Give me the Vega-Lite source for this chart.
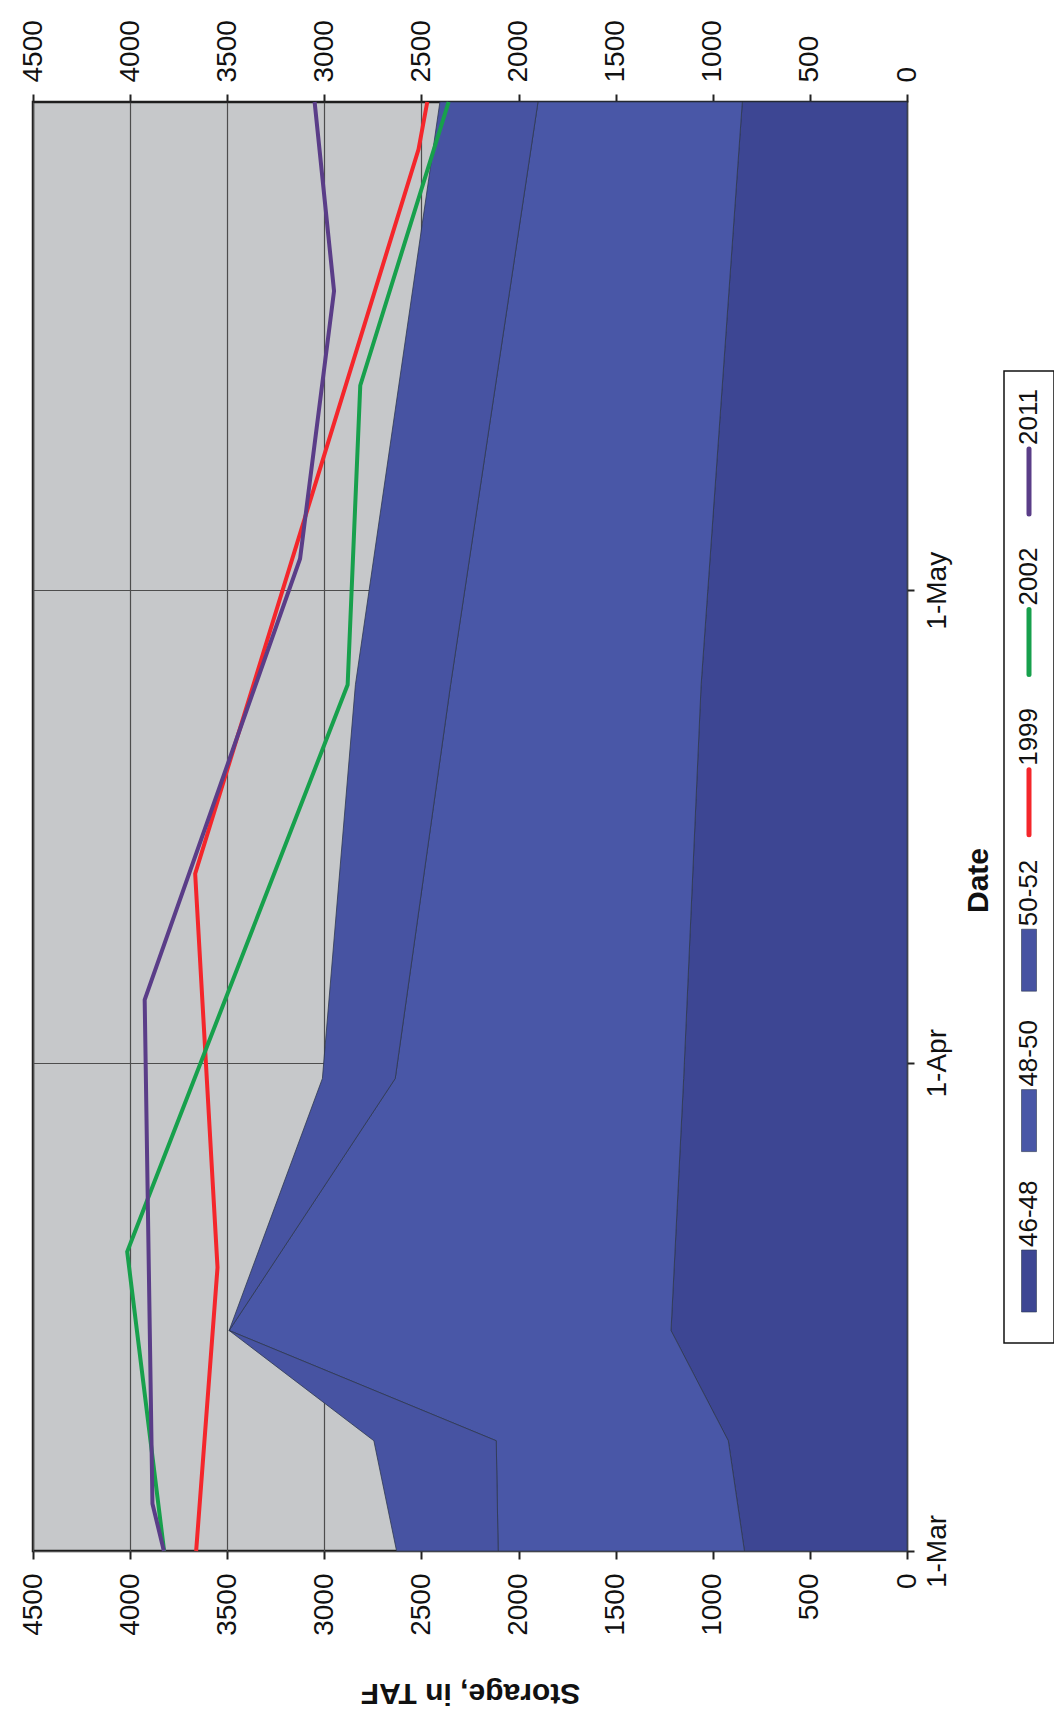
{
  "$schema": "https://vega.github.io/schema/vega-lite/v6.json",
  "description": "Storage in TAF, 1 March to 1 June: bands for 46-48, 48-50, 50-52 with 1999, 2002, 2011 lines, drawn turned on its side like the scan.",
  "background": "white",
  "padding": {"left": 17, "top": 18, "right": 2, "bottom": 2},
  "datasets": {
    "bands": [
      {"date": "2001/03/01", "band": "46-48", "taf": 837},
      {"date": "2001/03/08", "band": "46-48", "taf": 920},
      {"date": "2001/03/15", "band": "46-48", "taf": 1215},
      {"date": "2001/03/31", "band": "46-48", "taf": 1150},
      {"date": "2001/04/25", "band": "46-48", "taf": 1060},
      {"date": "2001/06/01", "band": "46-48", "taf": 848},
      {"date": "2001/03/01", "band": "48-50", "taf": 1268},
      {"date": "2001/03/08", "band": "48-50", "taf": 1195},
      {"date": "2001/03/15", "band": "48-50", "taf": 2275},
      {"date": "2001/03/31", "band": "48-50", "taf": 1485},
      {"date": "2001/04/25", "band": "48-50", "taf": 1290},
      {"date": "2001/06/01", "band": "48-50", "taf": 1052},
      {"date": "2001/03/01", "band": "50-52", "taf": 523},
      {"date": "2001/03/08", "band": "50-52", "taf": 630},
      {"date": "2001/03/15", "band": "50-52", "taf": 0},
      {"date": "2001/03/31", "band": "50-52", "taf": 375},
      {"date": "2001/04/25", "band": "50-52", "taf": 490},
      {"date": "2001/06/01", "band": "50-52", "taf": 505}
    ],
    "years": [
      {"date": "2001/03/01", "year": "1999", "taf": 3660},
      {"date": "2001/03/19", "year": "1999", "taf": 3550},
      {"date": "2001/04/13", "year": "1999", "taf": 3665},
      {"date": "2001/05/29", "year": "1999", "taf": 2515},
      {"date": "2001/06/01", "year": "1999", "taf": 2470},
      {"date": "2001/03/01", "year": "2002", "taf": 3825},
      {"date": "2001/03/20", "year": "2002", "taf": 4015},
      {"date": "2001/04/25", "year": "2002", "taf": 2880},
      {"date": "2001/05/14", "year": "2002", "taf": 2815},
      {"date": "2001/06/01", "year": "2002", "taf": 2360},
      {"date": "2001/03/01", "year": "2011", "taf": 3826},
      {"date": "2001/03/04", "year": "2011", "taf": 3885},
      {"date": "2001/04/05", "year": "2011", "taf": 3925},
      {"date": "2001/05/03", "year": "2011", "taf": 3125},
      {"date": "2001/05/20", "year": "2011", "taf": 2950},
      {"date": "2001/06/01", "year": "2011", "taf": 3050}
    ],
    "keys": [
      {"key": "2011", "kind": "line"},
      {"key": "2002", "kind": "line"},
      {"key": "1999", "kind": "line"},
      {"key": "50-52", "kind": "area"},
      {"key": "48-50", "kind": "area"},
      {"key": "46-48", "kind": "area"}
    ]
  },
  "spacing": 8,
  "hconcat": [
    {
      "width": 874,
      "height": 1449,
      "view": {"fill": "#c6c8ca", "stroke": "#1e1e1e", "strokeWidth": 2.5},
      "encoding": {
        "y": {
          "field": "date",
          "type": "temporal",
          "scale": {
            "domain": [
              {"year": 2001, "month": 3, "date": 1},
              {"year": 2001, "month": 6, "date": 1}
            ],
            "nice": false
          },
          "axis": {
            "orient": "right",
            "values": [
              {"year": 2001, "month": 3, "date": 1},
              {"year": 2001, "month": 4, "date": 1},
              {"year": 2001, "month": 5, "date": 1}
            ],
            "format": "%-d-%b",
            "labelAngle": 270,
            "labelAlign": "center",
            "labelBaseline": "top",
            "labelPadding": 9,
            "tickSize": 7,
            "grid": true,
            "title": "Date",
            "titleAngle": 270,
            "titleAlign": "center",
            "titleBaseline": "top",
            "titlePadding": 12,
            "titleY": 778
          }
        }
      },
      "layer": [
        {
          "data": {"name": "bands"},
          "mark": {"type": "area", "orient": "horizontal", "stroke": "#2e3950", "strokeWidth": 0.8, "opacity": 1},
          "encoding": {
            "x": {
              "field": "taf",
              "type": "quantitative",
              "stack": "zero",
              "scale": {"domain": [0, 4500], "reverse": true, "nice": false, "zero": true},
              "axis": {
                "orient": "bottom",
                "values": [0, 500, 1000, 1500, 2000, 2500, 3000, 3500, 4000, 4500],
                "format": "d",
                "labelAngle": 270,
                "labelAlign": "right",
                "labelBaseline": "middle",
                "labelPadding": 14,
                "tickSize": 8,
                "grid": true,
                "title": "Storage, in TAF",
                "titleAngle": 180,
                "titleBaseline": "bottom",
                "titlePadding": 42
              }
            },
            "color": {
              "field": "band",
              "type": "nominal",
              "scale": {
                "domain": ["46-48", "48-50", "50-52", "1999", "2002", "2011"],
                "range": ["#3d4693", "#4957a7", "#4753a2", "#f4262b", "#17a04c", "#5a3d88"]
              },
              "legend": null
            },
            "order": {"field": "band", "type": "ordinal", "sort": "ascending"}
          }
        },
        {
          "data": {"name": "years"},
          "mark": {"type": "line", "strokeWidth": 4, "strokeJoin": "miter"},
          "encoding": {
            "x": {
              "field": "taf",
              "type": "quantitative",
              "axis": {
                "orient": "top",
                "values": [0, 500, 1000, 1500, 2000, 2500, 3000, 3500, 4000, 4500],
                "format": "d",
                "labelAngle": 270,
                "labelAlign": "left",
                "labelBaseline": "middle",
                "labelPadding": 12,
                "tickSize": 8,
                "grid": false,
                "title": null
              }
            },
            "color": {
              "field": "year",
              "type": "nominal",
              "scale": {
                "domain": ["46-48", "48-50", "50-52", "1999", "2002", "2011"],
                "range": ["#3d4693", "#4957a7", "#4753a2", "#f4262b", "#17a04c", "#5a3d88"]
              },
              "legend": null
            },
            "order": {"field": "date", "type": "temporal"}
          }
        }
      ],
      "resolve": {"axis": {"x": "independent"}}
    },
    {
      "spacing": 0,
      "vconcat": [
        {
          "width": 50,
          "height": 268,
          "view": {"stroke": null},
          "data": {"values": []},
          "mark": "point"
        },
        {
          "width": 50,
          "height": 972,
          "view": {"stroke": "#111111", "strokeWidth": 1.5, "fill": "white"},
          "data": {"name": "keys"},
          "encoding": {
            "y": {
              "field": "key",
              "type": "ordinal",
              "scale": {
                "type": "point",
                "domain": ["2011", "2002", "1999", "50-52", "48-50", "46-48"],
                "range": [74, 876],
                "padding": 0
              },
              "axis": null
            }
          },
          "layer": [
            {
              "transform": [{"filter": "datum.kind == 'area'"}],
              "mark": {
                "type": "point",
                "shape": "M-0.3,0.12H0.3V2.6H-0.3Z",
                "size": 2500,
                "filled": true,
                "opacity": 1,
                "stroke": "#2e3950",
                "strokeWidth": 0.6
              },
              "encoding": {
                "fill": {
                  "field": "key",
                  "type": "nominal",
                  "scale": {
                    "domain": ["46-48", "48-50", "50-52", "1999", "2002", "2011"],
                    "range": ["#3d4693", "#4957a7", "#4753a2", "#f4262b", "#17a04c", "#5a3d88"]
                  },
                  "legend": null
                }
              }
            },
            {
              "transform": [{"filter": "datum.kind == 'line'"}],
              "mark": {
                "type": "point",
                "shape": "M0,0.16V2.76",
                "size": 2500,
                "filled": false,
                "opacity": 1,
                "strokeWidth": 5,
                "strokeCap": "round"
              },
              "encoding": {
                "stroke": {
                  "field": "key",
                  "type": "nominal",
                  "scale": {
                    "domain": ["46-48", "48-50", "50-52", "1999", "2002", "2011"],
                    "range": ["#3d4693", "#4957a7", "#4753a2", "#f4262b", "#17a04c", "#5a3d88"]
                  },
                  "legend": null
                }
              }
            },
            {
              "mark": {
                "type": "text",
                "angle": 270,
                "align": "left",
                "baseline": "middle",
                "fontSize": 26,
                "color": "#111111"
              },
              "encoding": {"text": {"field": "key", "type": "nominal"}}
            }
          ]
        }
      ]
    }
  ],
  "config": {
    "font": "Liberation Sans",
    "axis": {
      "labelFont": "Liberation Sans",
      "labelFontSize": 28,
      "labelColor": "#111111",
      "labelOverlap": false,
      "labelFlush": false,
      "titleFont": "Liberation Sans",
      "titleFontSize": 30,
      "titleFontWeight": "bold",
      "titleColor": "#111111",
      "tickColor": "#222222",
      "tickWidth": 2,
      "domain": false,
      "gridColor": "#4d4d4d",
      "gridWidth": 1.2,
      "gridOpacity": 1
    }
  }
}
